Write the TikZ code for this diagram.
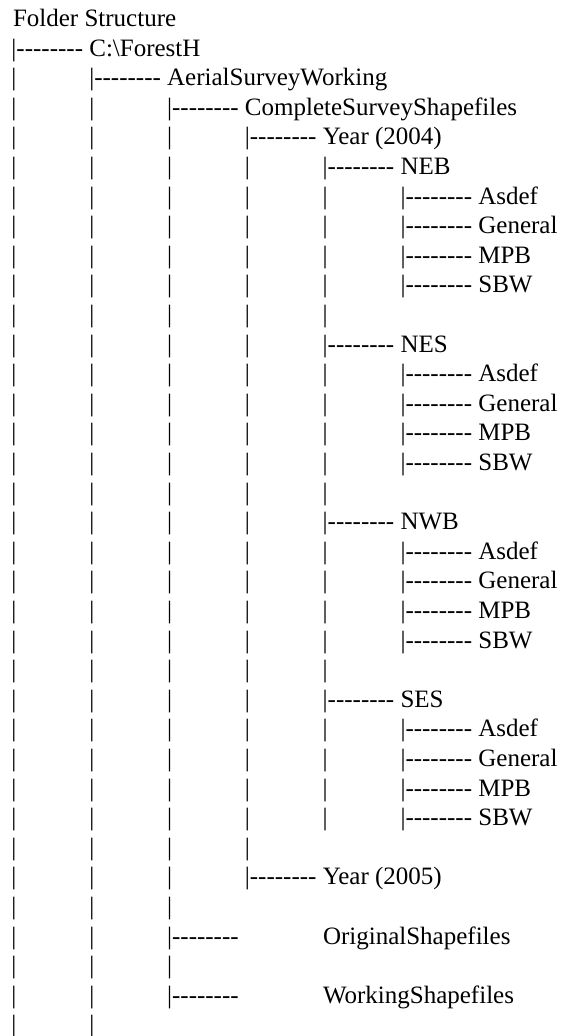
\documentclass[tikz,border=0pt]{standalone}
\usepackage{fontspec}
\setmainfont{Liberation Serif}[Ligatures=TeXOff]
\begin{document}
\begin{tikzpicture}[x=1pt,y=-1pt,
  txt/.style={anchor=base west,inner sep=0pt,outer sep=0pt,text=black,
    font=\fontsize{25}{29.6}\selectfont}]
\useasboundingbox[fill=white] (0,0) rectangle (561,1036);
% title
\node[txt] (title) at (13,26.4) {Folder Structure};
% vertical bars on each row
\foreach \k/\n in {3/1,4/2,5/3,6/4,7/5,8/5,9/5,10/5,11/5,12/4,13/5,14/5,15/5,16/5,17/5,
                   18/4,19/5,20/5,21/5,22/5,23/5,24/4,25/5,26/5,27/5,28/5,29/4,30/3,
                   31/3,32/2,33/3,34/2,35/2}{
  \foreach \c in {1,...,\n}{
    \node[txt] (p-\k-\c) at ({11.5+(\c-1)*77.8},{26.4+(\k-1)*29.6}) {|};
  }
}
% branches with names
\foreach \k/\c/\t in {2/1/C:\textbackslash ForestH,3/2/AerialSurveyWorking,
    4/3/CompleteSurveyShapefiles,5/4/Year (2004),
    6/5/NEB,7/6/Asdef,8/6/General,9/6/MPB,10/6/SBW,
    12/5/NES,13/6/Asdef,14/6/General,15/6/MPB,16/6/SBW,
    18/5/NWB,19/6/Asdef,20/6/General,21/6/MPB,22/6/SBW,
    24/5/SES,25/6/Asdef,26/6/General,27/6/MPB,28/6/SBW,
    30/4/Year (2005)}{
  \node[txt] (b-\k) at ({11.5+(\c-1)*77.8},{26.4+(\k-1)*29.6}) {|-------- \t};
}
% branches with detached names
\node[txt] (b-32) at ({11.5+2*77.8},{26.4+31*29.6}) {|--------};
\node[txt] (l-32) at (323,{26.4+31*29.6}) {OriginalShapefiles};
\node[txt] (b-34) at ({11.5+2*77.8},{26.4+33*29.6}) {|--------};
\node[txt] (l-34) at (323,{26.4+33*29.6}) {WorkingShapefiles};
\end{tikzpicture}
\end{document}
